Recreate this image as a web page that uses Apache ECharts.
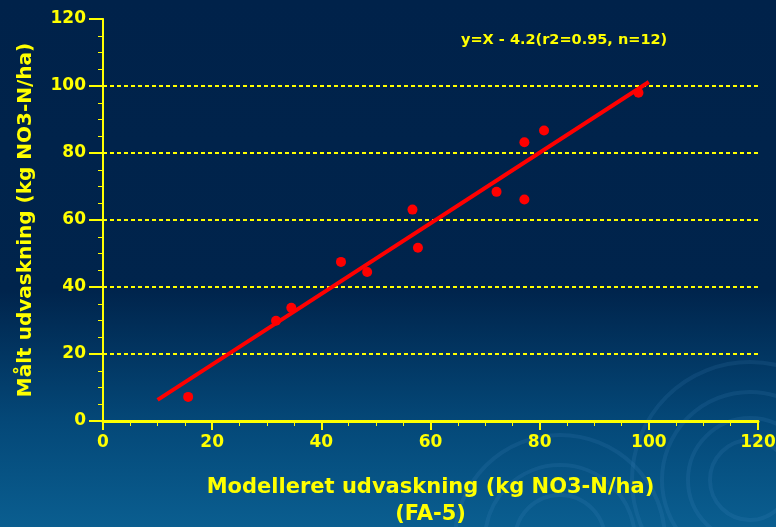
<!DOCTYPE html>
<html><head><meta charset="utf-8">
<script src="https://cdn.jsdelivr.net/npm/echarts@6/dist/echarts.min.js"></script>
<style>
html,body{margin:0;padding:0;}
#c{width:776px;height:527px;background:linear-gradient(180deg,#00224a 0%,#00244c 55%,#044878 80%,#0a5e90 100%);}
</style></head>
<body><div id="c"></div>
<script>
const modelled = [15.6, 31.7, 34.5, 43.6, 48.4, 56.7, 57.7, 72.1, 77.2, 77.2, 80.8, 98.1];
const measured = [7.2, 29.9, 33.8, 47.5, 44.5, 63.1, 51.7, 68.4, 66.1, 83.2, 86.7, 98.0];
const fitX = [10, 100];
const fitY = [6.3, 101.2];
const axisTicks = [0, 20, 40, 60, 80, 100, 120];
const equationText = 'y=X - 4.2(r2=0.95, n=12)';
const xTitle = 'Modelleret udvaskning (kg NO3-N/ha)\n(FA-5)';
const yTitle = 'Målt udvaskning (kg NO3-N/ha)';

const Y = '#ffff00';
const font = 'DejaVu Sans';
const chart = echarts.init(document.getElementById('c'), null, {renderer:'canvas'});
const rings = [];
[[750,480,40],[750,480,62],[750,480,88],[750,480,118],[560,540,45],[560,540,75],[560,540,105]].forEach(r=>{
  rings.push({type:'circle',shape:{cx:r[0],cy:r[1],r:r[2]},style:{fill:'none',stroke:'rgba(90,160,210,0.12)',lineWidth:4},z:-1,silent:true});
});
chart.setOption({
  animation:false,
  backgroundColor:'transparent',
  graphic: rings,
  title:{text:equationText,left:456,top:28,textStyle:{color:Y,fontFamily:font,fontWeight:'bold',fontSize:14.5}},
  grid:{left:103,right:18,top:19,bottom:106,containLabel:false,outerBoundsMode:'none'},
  xAxis:[{
    type:'value',min:0,max:120,interval:20,
    name:xTitle,nameLocation:'middle',nameGap:53,
    nameTextStyle:{color:Y,fontFamily:font,fontWeight:'bold',fontSize:21,lineHeight:27},
    axisLine:{show:true,onZero:false,lineStyle:{color:Y,width:2}},
    axisTick:{show:true,length:9,lineStyle:{color:Y,width:2}},
    minorTick:{show:true,splitNumber:4,length:5,lineStyle:{color:Y,width:1}},
    axisLabel:{color:Y,fontFamily:font,fontWeight:'bold',fontSize:17,margin:13,
      formatter:v=>axisTicks.includes(v)?String(v):''},
    splitLine:{show:false}
  },{
    type:'value',min:0,max:120,position:'top',
    axisLine:{show:true,lineStyle:{color:Y,width:3}},axisTick:{show:false},axisLabel:{show:false},splitLine:{show:false}
  }],
  yAxis:[{
    type:'value',min:0,max:120,interval:20,
    name:yTitle,nameLocation:'middle',nameGap:67,nameRotate:90,
    nameTextStyle:{color:Y,fontFamily:font,fontWeight:'bold',fontSize:20},
    axisLine:{show:true,onZero:false,lineStyle:{color:Y,width:2}},
    axisTick:{show:true,length:14,lineStyle:{color:Y,width:2}},
    minorTick:{show:true,splitNumber:4,length:5,lineStyle:{color:Y,width:1}},
    axisLabel:{color:Y,fontFamily:font,fontWeight:'bold',fontSize:17,margin:17,
      formatter:v=>axisTicks.includes(v)?String(v):''},
    splitLine:{show:true,showMaxLine:false,showMinLine:false,lineStyle:{color:Y,width:2,type:[4,3]}}
  },{
    type:'value',min:0,max:120,position:'right',
    axisLine:{show:true,lineStyle:{color:Y,width:1}},axisTick:{show:false},axisLabel:{show:false},splitLine:{show:false}
  }],
  series:[{
    type:'line',data:fitX.map((x,i)=>[x,fitY[i]]),showSymbol:false,symbol:'none',
    lineStyle:{color:'#ff0000',width:4},z:3
  },{
    type:'scatter',data:modelled.map((x,i)=>[x,measured[i]]),symbol:'circle',symbolSize:10,
    itemStyle:{color:'#ff0000',opacity:1},z:4
  }]
});
</script></body></html>
